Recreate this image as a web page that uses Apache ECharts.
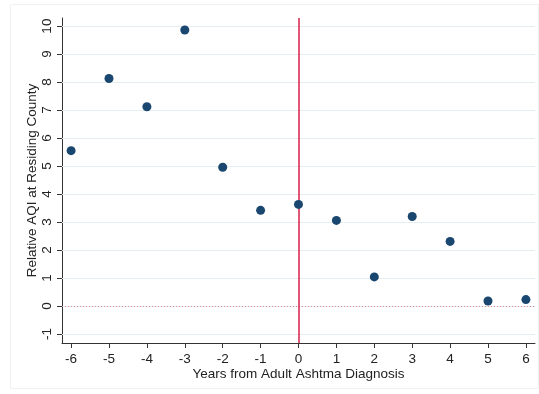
<!DOCTYPE html>
<html>
<head>
<meta charset="utf-8">
<script src="https://cdn.jsdelivr.net/npm/echarts@6/dist/echarts.min.js"></script>
<style>
  html, body { margin: 0; padding: 0; background: #fff; }
  #chart { width: 539px; height: 394px; }
</style>
</head>
<body>
<div id="chart"></div>
<script>
// years relative to diagnosis and the estimated relative AQI
const years = [-6, -5, -4, -3, -2, -1, 0, 1, 2, 3, 4, 5, 6];
const relAqi = [5.55, 8.13, 7.12, 9.86, 4.96, 3.42, 3.63, 3.06, 1.04, 3.20, 2.31, 0.18, 0.23];
const xTicks = [-6, -5, -4, -3, -2, -1, 0, 1, 2, 3, 4, 5, 6];
const yTicks = [-1, 0, 1, 2, 3, 4, 5, 6, 7, 8, 9, 10];

const chart = echarts.init(document.getElementById('chart'));

const font = 'Liberation Sans, Arial, sans-serif';

chart.setOption({
  animation: false,
  backgroundColor: '#fff',
  graphic: [{
    type: 'rect',
    shape: { x: 10.5, y: 4.5, width: 528, height: 384 },
    style: { fill: 'none', stroke: '#eef2f4', lineWidth: 1 },
    z: -10
  }],
  grid: { left: 62, top: 18, right: 4, bottom: 51 },
  xAxis: {
    type: 'value',
    min: -6.24,
    max: 6.24,
    name: 'Years from Adult Ashtma Diagnosis',
    nameLocation: 'middle',
    nameGap: 24,
    nameMoveOverlap: false,
    nameTextStyle: { color: '#222', fontSize: 13.5, fontFamily: font },
    axisLine: { onZero: false, lineStyle: { color: '#333', width: 1 } },
    axisTick: { show: true, length: 5, customValues: xTicks, lineStyle: { color: '#333' } },
    axisLabel: { customValues: xTicks, color: '#222', fontSize: 13.5, fontFamily: font, margin: 9 },
    splitLine: { show: false }
  },
  yAxis: {
    type: 'value',
    min: -1.32,
    max: 10.29,
    name: 'Relative AQI at Residing County',
    nameLocation: 'middle',
    nameGap: 23,
    nameMoveOverlap: false,
    nameTextStyle: { color: '#222', fontSize: 13.5, fontFamily: font },
    axisLine: { show: true, onZero: false, lineStyle: { color: '#333', width: 1 } },
    axisTick: { show: true, length: 5, customValues: yTicks, lineStyle: { color: '#333' } },
    axisLabel: { customValues: yTicks, rotate: 90, color: '#222', fontSize: 13.5, fontFamily: font, margin: 8 },
    splitLine: { show: false }
  },
  series: [
    {
      // gridlines and reference lines
      type: 'scatter',
      data: [],
      silent: true,
      z: 1,
      markLine: {
        silent: true,
        symbol: 'none',
        animation: false,
        label: { show: false },
        data: yTicks.map(v => ({ yAxis: v, lineStyle: { color: '#e4edf0', width: 1, type: 'solid' } }))
          .concat([
            { yAxis: 0, lineStyle: { color: '#e08aa0', width: 1, type: [1, 2] } },
            { xAxis: 0, lineStyle: { color: '#d81e4a', width: 1.5, type: 'solid' } }
          ])
      }
    },
    {
      type: 'scatter',
      zlevel: 1,
      symbol: 'circle',
      symbolSize: 9,
      itemStyle: { color: '#1a476f', opacity: 1 },
      data: years.map((x, i) => [x, relAqi[i]])
    }
  ]
});
</script>
</body>
</html>
